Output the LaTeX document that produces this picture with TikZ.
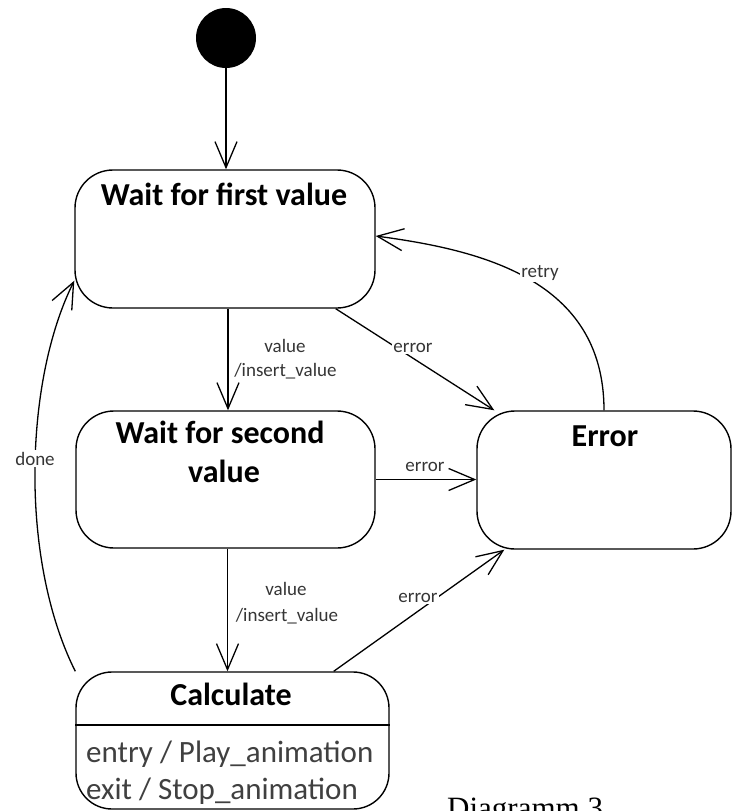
\documentclass[tikz,border=0pt]{standalone}
\usepackage{fontspec}
\setmainfont{Carlito}
\newfontfamily\captionserif{Liberation Serif}
\usetikzlibrary{arrows.meta}
\definecolor{labelgray}{HTML}{353535}
\definecolor{textgray}{HTML}{404040}

\begin{document}
\begin{tikzpicture}[x=1pt,y=-1pt,
  state/.style={draw=black, line width=1.4pt, rounded corners=38pt, fill=white, inner sep=0pt},
  statetitle/.style={font=\fontsize{32}{38}\selectfont\bfseries, anchor=base, inner sep=0pt},
  lbl/.style={font=\fontsize{19}{22}\selectfont, text=labelgray, anchor=base, inner sep=1.5pt},
  lblcut/.style={lbl, fill=white},
  arr/.style={line width=1.3pt, -{Straight Barb[length=26pt,width=22pt,line width=1.3pt]}},
  activity/.style={font=\fontsize{31}{37}\selectfont, text=textgray, anchor=base west, inner sep=0pt}
]
\useasboundingbox (0,0) rectangle (733,811);

% initial pseudo-state
\node[circle, fill=black, minimum size=60pt, inner sep=0pt] (init) at (226,38) {};

% states
\node[state, minimum width=300pt, minimum height=138pt] (w1) at (225,239) {};
\node[state, minimum width=299pt, minimum height=137pt] (w2) at (225.5,479.5) {};
\node[state, minimum width=254pt, minimum height=138pt] (err) at (604,480) {};
\node[state, rounded corners=36pt, minimum width=313pt, minimum height=137pt] (calc) at (232.5,740.5) {};
\draw[line width=1.4pt] (calc.west |- 0,725) -- (calc.east |- 0,725);

% state names
\node[statetitle] (t1) at (224,205) {Wait for first value};
\node[statetitle] (t2a) at (220,443) {Wait for second};
\node[statetitle] (t2b) at (224,482) {value};
\node[statetitle] (t3) at (605,446) {Error};
\node[statetitle] (t4) at (231,705) {Calculate};

% entry / exit activities
\node[activity] (entry) at (86,762) {entry / Play\_animation};
\node[activity] (exit) at (86,799) {exit / Stop\_animation};

% transitions
\draw[arr] (init) -- (init |- w1.north);
\draw[arr] ([xshift=3pt]w1.south) -- ([xshift=3pt]w1.south |- w2.north);
\draw[arr] ([xshift=-40pt]w1.south east) -- ([xshift=18pt]err.north west);
\draw[arr] (w2.east) -- (w2.east -| err.west);
\draw[arr] ([xshift=2pt]w2.south) -- ([xshift=2pt]w2.south |- calc.north);
\draw[arr] ([xshift=-56pt]calc.north east) -- ([xshift=28pt]err.south west);
\draw[arr] (err.north) .. controls +(0,-131) and +(105,14) .. ([yshift=3pt]w1.east);
\draw[arr] (calc.north west) .. controls +(-56,-112) and +(-50,100) .. ([yshift=28pt]w1.south west);

% transition labels
\node[lbl] (v1a) at (285,352) {value};
\node[lbl] (v1b) at (285.5,376) {/insert\_value};
\node[lblcut] (e1) at (413,352) {error};
\node[lbl] (e2) at (425,471) {error};
\node[lbl] (v2a) at (286,595) {value};
\node[lbl] (v2b) at (287,621) {/insert\_value};
\node[lblcut] (e3) at (418,602) {error};
\node[lblcut] (retry) at (540,277) {retry};
\node[lblcut] (done) at (35,465) {done};

% caption
\node[anchor=base west, inner sep=0pt, font=\captionserif\fontsize{31}{37}\selectfont] (cap) at (447,818) {Diagramm 3};
\end{tikzpicture}
\end{document}
